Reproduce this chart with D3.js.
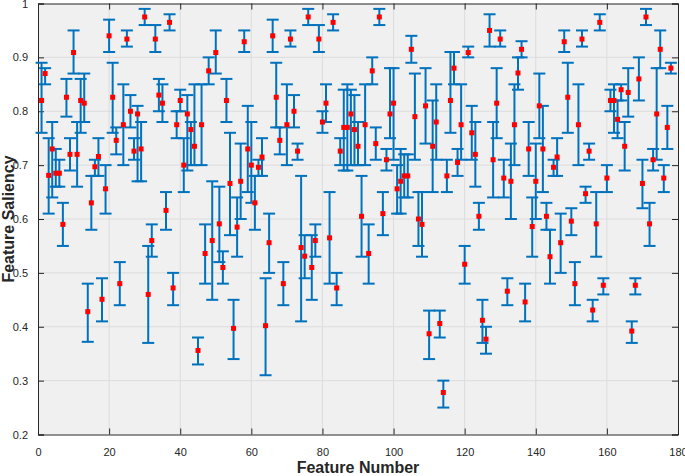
<!DOCTYPE html>
<html>
<head>
<meta charset="utf-8">
<script src="https://cdn.jsdelivr.net/npm/d3@7"></script>
<style>
  body { margin: 0; background: #fff; }
  text { font-family: "Liberation Sans", Arial, sans-serif; }
</style>
</head>
<body>
<svg id="chart" width="685" height="476"></svg>
<script>
// feature saliency per feature, with lower / upper error limits
const saliency = [
  0.82, 0.87, 0.681, 0.73, 0.685, 0.685, 0.59, 0.826, 0.72, 0.909,
  0.72, 0.82, 0.815, 0.428, 0.63, 0.697, 0.716, 0.451, 0.656, 0.94,
  0.826, 0.746, 0.48, 0.775, 0.934, 0.80, 0.726, 0.795, 0.73, 0.975,
  0.46, 0.56, 0.934, 0.83, 0.815, 0.616, 0.965, 0.472, 0.775, 0.82,
  0.70, 0.795, 0.766, 0.735, 0.356, 0.775, 0.536, 0.875, 0.56, 0.909,
  0.591, 0.51, 0.82, 0.666, 0.397, 0.585, 0.67, 0.929, 0.73, 0.70,
  0.63, 0.696, 0.715, 0.402, 0.556, 0.94, 0.826, 0.746, 0.48, 0.775,
  0.934, 0.80, 0.726, 0.547, 0.531, 0.975, 0.51, 0.56, 0.934, 0.78,
  0.815, 0.565, 0.965, 0.472, 0.726, 0.77, 0.77, 0.795, 0.766, 0.735,
  0.605, 0.775, 0.536, 0.875, 0.74, 0.975, 0.61, 0.71, 0.795, 0.815,
  0.656, 0.67, 0.68, 0.68, 0.915, 0.79, 0.60, 0.59, 0.81, 0.387,
  0.735, 0.78, 0.406, 0.278, 0.68, 0.82, 0.88, 0.705, 0.775, 0.516,
  0.909, 0.76, 0.72, 0.605, 0.412, 0.377, 0.95, 0.71, 0.815, 0.934,
  0.676, 0.466, 0.67, 0.775, 0.871, 0.915, 0.446, 0.73, 0.586, 0.67,
  0.81, 0.73, 0.605, 0.53, 0.696, 0.715, 0.556, 0.929, 0.826, 0.596,
  0.48, 0.775, 0.934, 0.647, 0.726, 0.431, 0.591, 0.965, 0.477, 0.676,
  0.82, 0.82, 0.785, 0.84, 0.735, 0.835, 0.392, 0.477, 0.86, 0.666,
  0.975, 0.591, 0.71, 0.795, 0.915, 0.676, 0.77, 0.88
];
const lowerBound = [
  0.76, 0.85, 0.61, 0.64, 0.66, 0.66, 0.55, 0.79, 0.69, 0.87,
  0.66, 0.76, 0.78, 0.372, 0.58, 0.68, 0.68, 0.41, 0.61, 0.91,
  0.76, 0.72, 0.44, 0.70, 0.92, 0.77, 0.71, 0.67, 0.67, 0.96,
  0.37, 0.53, 0.91, 0.80, 0.78, 0.58, 0.95, 0.44, 0.75, 0.80,
  0.65, 0.69, 0.70, 0.70, 0.33, 0.70, 0.48, 0.85, 0.45, 0.87,
  0.52, 0.48, 0.78, 0.57, 0.34, 0.53, 0.60, 0.91, 0.65, 0.63,
  0.58, 0.68, 0.68, 0.31, 0.50, 0.91, 0.77, 0.72, 0.44, 0.70,
  0.92, 0.77, 0.71, 0.41, 0.49, 0.96, 0.45, 0.53, 0.91, 0.76,
  0.78, 0.48, 0.95, 0.44, 0.70, 0.69, 0.69, 0.70, 0.70, 0.70,
  0.53, 0.70, 0.48, 0.85, 0.71, 0.96, 0.57, 0.69, 0.75, 0.71,
  0.61, 0.61, 0.64, 0.64, 0.89, 0.71, 0.55, 0.53, 0.74, 0.34,
  0.65, 0.71, 0.38, 0.25, 0.65, 0.76, 0.85, 0.68, 0.71, 0.48,
  0.90, 0.71, 0.66, 0.58, 0.37, 0.35, 0.92, 0.64, 0.75, 0.92,
  0.64, 0.44, 0.60, 0.70, 0.84, 0.90, 0.41, 0.68, 0.53, 0.60,
  0.75, 0.65, 0.58, 0.48, 0.68, 0.68, 0.50, 0.91, 0.76, 0.57,
  0.44, 0.70, 0.92, 0.63, 0.71, 0.41, 0.53, 0.95, 0.46, 0.65,
  0.80, 0.76, 0.75, 0.82, 0.69, 0.79, 0.37, 0.46, 0.82, 0.62,
  0.96, 0.55, 0.69, 0.71, 0.88, 0.65, 0.73, 0.87
];
const upperBound = [
  0.89, 0.88, 0.75, 0.78, 0.73, 0.71, 0.63, 0.86, 0.75, 0.95,
  0.78, 0.86, 0.87, 0.48, 0.68, 0.71, 0.75, 0.49, 0.70, 0.97,
  0.89, 0.77, 0.52, 0.85, 0.95, 0.83, 0.75, 0.81, 0.78, 0.99,
  0.55, 0.59, 0.96, 0.86, 0.85, 0.65, 0.98, 0.50, 0.80, 0.84,
  0.75, 0.83, 0.78, 0.85, 0.38, 0.85, 0.59, 0.90, 0.67, 0.95,
  0.66, 0.54, 0.86, 0.76, 0.45, 0.64, 0.74, 0.95, 0.81, 0.78,
  0.68, 0.71, 0.75, 0.49, 0.61, 0.97, 0.89, 0.77, 0.52, 0.85,
  0.95, 0.83, 0.74, 0.68, 0.57, 0.99, 0.57, 0.59, 0.96, 0.80,
  0.85, 0.65, 0.98, 0.50, 0.75, 0.84, 0.85, 0.84, 0.83, 0.78,
  0.68, 0.85, 0.59, 0.90, 0.77, 0.99, 0.65, 0.73, 0.88, 0.88,
  0.70, 0.73, 0.72, 0.72, 0.94, 0.87, 0.65, 0.65, 0.88, 0.43,
  0.82, 0.85, 0.43, 0.30, 0.71, 0.91, 0.91, 0.73, 0.85, 0.55,
  0.92, 0.81, 0.78, 0.63, 0.45, 0.40, 0.98, 0.78, 0.88, 0.95,
  0.71, 0.49, 0.74, 0.85, 0.90, 0.93, 0.48, 0.78, 0.64, 0.74,
  0.87, 0.81, 0.63, 0.58, 0.71, 0.75, 0.61, 0.95, 0.89, 0.62,
  0.52, 0.85, 0.95, 0.66, 0.74, 0.45, 0.65, 0.98, 0.49, 0.70,
  0.84, 0.85, 0.82, 0.85, 0.78, 0.88, 0.41, 0.49, 0.90, 0.71,
  0.99, 0.63, 0.73, 0.88, 0.95, 0.70, 0.81, 0.89
];
const xTicks = [0, 20, 40, 60, 80, 100, 120, 140, 160, 180];
const yTicks = [0.2, 0.3, 0.4, 0.5, 0.6, 0.7, 0.8, 0.9, 1];

const points = saliency.map(function(v, i) {
  return { feature: i + 1, value: v, lo: lowerBound[i], hi: upperBound[i] };
});

const margin = { left: 38, right: 7, top: 3.5, bottom: 41.5 };
const width = 685 - margin.left - margin.right;
const height = 476 - margin.top - margin.bottom;

const svg = d3.select('#chart');
const g = svg.append('g')
  .attr('transform', 'translate(' + margin.left + ',' + margin.top + ')');

const x = d3.scaleLinear().domain([0, 180]).range([0, width]);
const y = d3.scaleLinear().domain([0.2, 1]).range([height, 0]);

// plot background
g.append('rect')
  .attr('width', width)
  .attr('height', height)
  .attr('fill', '#f0f0f0');

// grid
g.append('g')
  .selectAll('line')
  .data(xTicks.slice(1, -1))
  .enter()
  .append('line')
  .attr('x1', d => x(d))
  .attr('x2', d => x(d))
  .attr('y1', 0)
  .attr('y2', height)
  .attr('stroke', '#dcdcdc')
  .attr('stroke-width', 1);

g.append('g')
  .selectAll('line')
  .data(yTicks.slice(1, -1))
  .enter()
  .append('line')
  .attr('x1', 0)
  .attr('x2', width)
  .attr('y1', d => y(d))
  .attr('y2', d => y(d))
  .attr('stroke', '#dcdcdc')
  .attr('stroke-width', 1);

// axes (ticks point inward, MATLAB style)
const tickLen = 6;
const xAxis = g.append('g')
  .attr('transform', 'translate(0,' + height + ')')
  .call(d3.axisBottom(x).tickValues(xTicks).tickSize(-tickLen).tickPadding(8 + tickLen).tickFormat(d3.format('d')));
const xAxisTop = g.append('g')
  .call(d3.axisTop(x).tickValues(xTicks).tickSize(-tickLen).tickFormat(''));
const yAxis = g.append('g')
  .call(d3.axisLeft(y).tickValues(yTicks).tickSize(-tickLen).tickPadding(4 + tickLen).tickFormat(d3.format('.1~f')));
const yAxisRight = g.append('g')
  .attr('transform', 'translate(' + width + ',0)')
  .call(d3.axisRight(y).tickValues(yTicks).tickSize(-tickLen).tickFormat(''));

[xAxis, xAxisTop, yAxis, yAxisRight].forEach(function(a) {
  a.selectAll('.domain').attr('stroke', '#262626').attr('stroke-width', 1);
  a.selectAll('.tick line').attr('stroke', '#262626').attr('stroke-width', 1);
  a.selectAll('.tick text')
    .attr('fill', '#262626')
    .style('font-size', '11px')
    .style('font-family', '"Liberation Sans Narrow", "Liberation Sans", Arial, sans-serif');
});
yAxis.selectAll('.tick text').attr('dy', '0.32em');

// error bars
const capHalf = 6;
const bars = g.append('g')
  .selectAll('g')
  .data(points)
  .enter()
  .append('g')
  .attr('stroke', '#0072bd')
  .attr('stroke-width', 2)
  .attr('fill', 'none');

bars.append('line')
  .attr('x1', d => x(d.feature))
  .attr('x2', d => x(d.feature))
  .attr('y1', d => y(d.lo))
  .attr('y2', d => y(d.hi));
bars.append('line')
  .attr('x1', d => x(d.feature) - capHalf)
  .attr('x2', d => x(d.feature) + capHalf)
  .attr('y1', d => y(d.lo))
  .attr('y2', d => y(d.lo));
bars.append('line')
  .attr('x1', d => x(d.feature) - capHalf)
  .attr('x2', d => x(d.feature) + capHalf)
  .attr('y1', d => y(d.hi))
  .attr('y2', d => y(d.hi));

// markers
const ms = 5;
g.append('g')
  .selectAll('rect')
  .data(points)
  .enter()
  .append('rect')
  .attr('x', d => x(d.feature) - ms / 2)
  .attr('y', d => y(d.value) - ms / 2)
  .attr('width', ms)
  .attr('height', ms)
  .attr('fill', '#ff0000');

// labels
svg.append('text')
  .attr('x', margin.left + width / 2)
  .attr('y', 473)
  .attr('text-anchor', 'middle')
  .attr('fill', '#262626')
  .style('font-size', '16px')
  .style('font-weight', 'bold')
  .style('font-family', '"Liberation Sans Narrow", "Liberation Sans", Arial, sans-serif')
  .text('Feature Number');

svg.append('text')
  .attr('transform', 'translate(14,' + (margin.top + height / 2) + ') rotate(-90)')
  .attr('text-anchor', 'middle')
  .attr('fill', '#262626')
  .style('font-size', '16px')
  .style('font-weight', 'bold')
  .text('Feature Saliency');
</script>
</body>
</html>
